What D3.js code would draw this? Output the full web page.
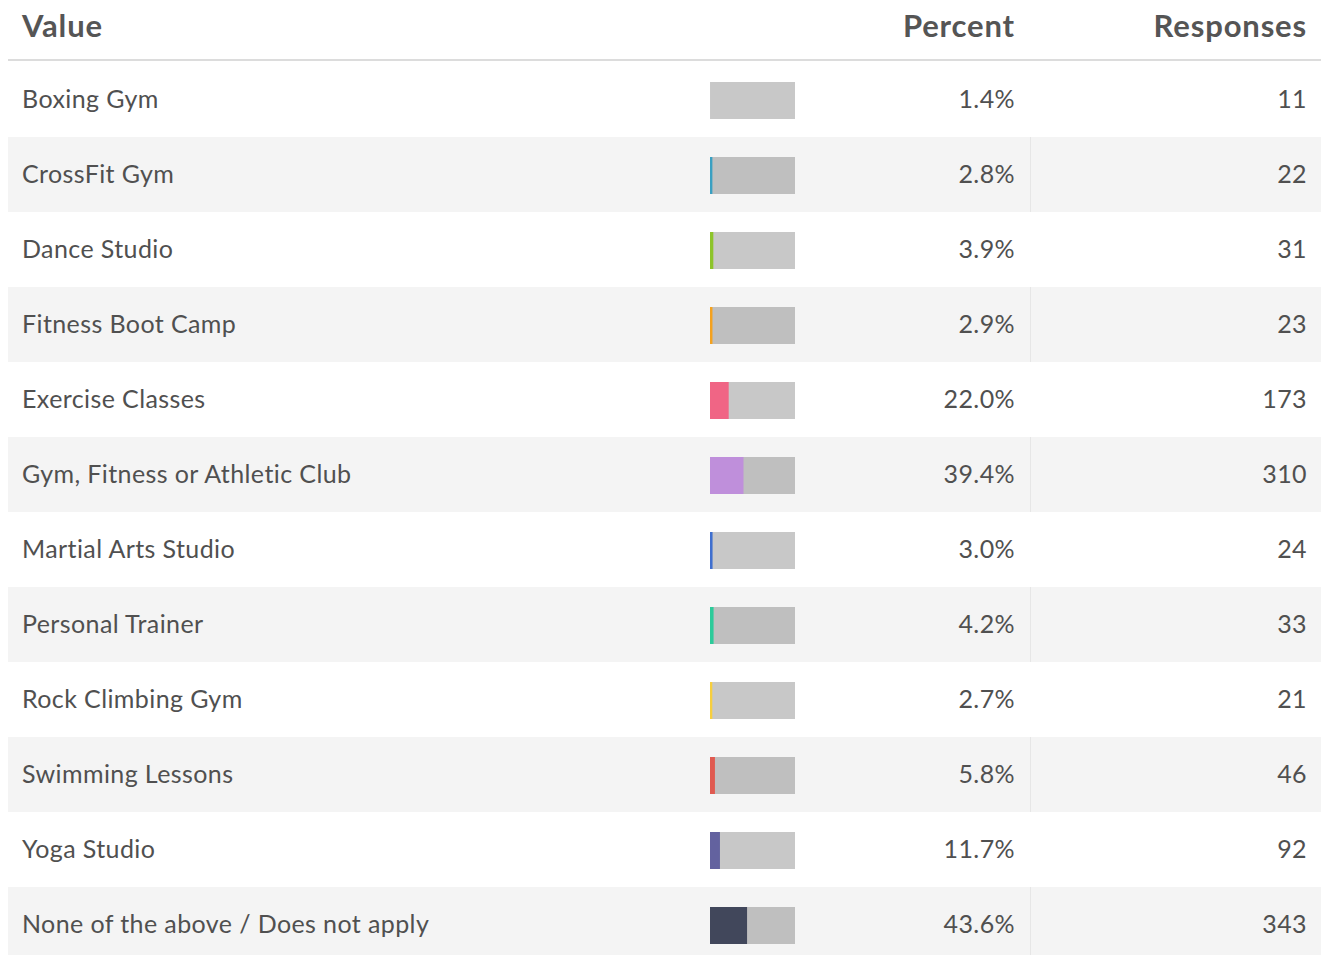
<!DOCTYPE html>
<html>
<head>
<meta charset="utf-8">
<script src="https://cdn.jsdelivr.net/npm/d3@7"></script>
<style>
  body { margin: 0; background: #fff; }
  svg { display: block; font-family: Lato, "Open Sans", sans-serif; }
</style>
</head>
<body>
<div id="chart"></div>
<script>
var w = 1321,
    h = 955;

var categories = ["Boxing Gym", "CrossFit Gym", "Dance Studio", "Fitness Boot Camp", "Exercise Classes",
    "Gym, Fitness or Athletic Club", "Martial Arts Studio", "Personal Trainer", "Rock Climbing Gym",
    "Swimming Lessons", "Yoga Studio", "None of the above / Does not apply"];
var percents = [1.4, 2.8, 3.9, 2.9, 22.0, 39.4, 3.0, 4.2, 2.7, 5.8, 11.7, 43.6];
var responses = [11, 22, 31, 23, 173, 310, 24, 33, 21, 46, 92, 343];
var headers = ["Value", "Percent", "Responses"];
var barColors = ["#c9c9c9", "#3aa0c2", "#8dc42a", "#f5a21e", "#f06585", "#bf8fdb",
    "#3f6fcf", "#2ccb9a", "#f7cf3e", "#e05a50", "#63629f", "#41475b"];

var rows = categories.map(function(c, i) {
    return { name: c, pct: percents[i], n: responses[i], color: barColors[i] };
});

var left = 8, tableTop = 62, rowH = 75;
var barX = 710, barW = 85, barH = 37;

var svg = d3.select("#chart").append("svg")
    .attr("width", w)
    .attr("height", h);

var y = d3.scaleBand()
    .domain(d3.range(rows.length))
    .range([tableTop, tableTop + rowH * rows.length])
    .padding(0);

var xBar = d3.scaleLinear().domain([0, 100]).range([0, barW]);

// header
var headerX = [22, 1015, 1307];
svg.selectAll(".head")
    .data(headers)
    .enter().append("text")
    .attr("class", "head")
    .attr("x", function(d, i) { return headerX[i]; })
    .attr("y", 37)
    .attr("text-anchor", function(d, i) { return i == 0 ? "start" : "end"; })
    .style("font-size", "31px")
    .style("font-weight", "bold")
    .style("fill", "#555")
    .style("letter-spacing", "0.85px")
    .text(function(d) { return d; });

svg.append("rect")
    .attr("x", left).attr("y", 59)
    .attr("width", w - left).attr("height", 2)
    .style("fill", "#dcdcdc");

var row = svg.selectAll(".row")
    .data(rows)
    .enter().append("g")
    .attr("class", "row")
    .attr("transform", function(d, i) { return "translate(0," + y(i) + ")"; });

row.append("rect")
    .attr("x", left)
    .attr("width", w - left)
    .attr("height", y.bandwidth())
    .style("fill", function(d, i) { return i % 2 ? "#f4f4f4" : "#fff"; });

// column border between percent and responses
row.filter(function(d, i) { return i % 2; })
    .append("rect")
    .attr("x", 1030).attr("width", 1)
    .attr("height", y.bandwidth())
    .style("fill", "#e6e6e6");

var barY = (rowH - barH) / 2 + 1;

row.append("rect")
    .attr("x", barX).attr("y", barY)
    .attr("width", barW).attr("height", barH)
    .style("fill", "#000")
    .style("fill-opacity", 0.215);

row.append("rect")
    .attr("x", barX).attr("y", barY)
    .attr("width", function(d) { return xBar(d.pct); })
    .attr("height", barH)
    .style("fill", function(d) { return d.color; });

var textY = rowH / 2 + 8.5;

row.append("text")
    .attr("x", 22).attr("y", textY)
    .style("font-size", "25px")
    .style("letter-spacing", "0.4px")
    .style("fill", "#505050")
    .text(function(d) { return d.name; });

row.append("text")
    .attr("x", 1015).attr("y", textY)
    .attr("text-anchor", "end")
    .style("font-size", "25px")
    .style("letter-spacing", "0.4px")
    .style("fill", "#505050")
    .text(function(d) { return d.pct.toFixed(1) + "%"; });

row.append("text")
    .attr("x", 1307).attr("y", textY)
    .attr("text-anchor", "end")
    .style("font-size", "25px")
    .style("letter-spacing", "0.4px")
    .style("fill", "#505050")
    .text(function(d) { return d.n; });
</script>
</body>
</html>
